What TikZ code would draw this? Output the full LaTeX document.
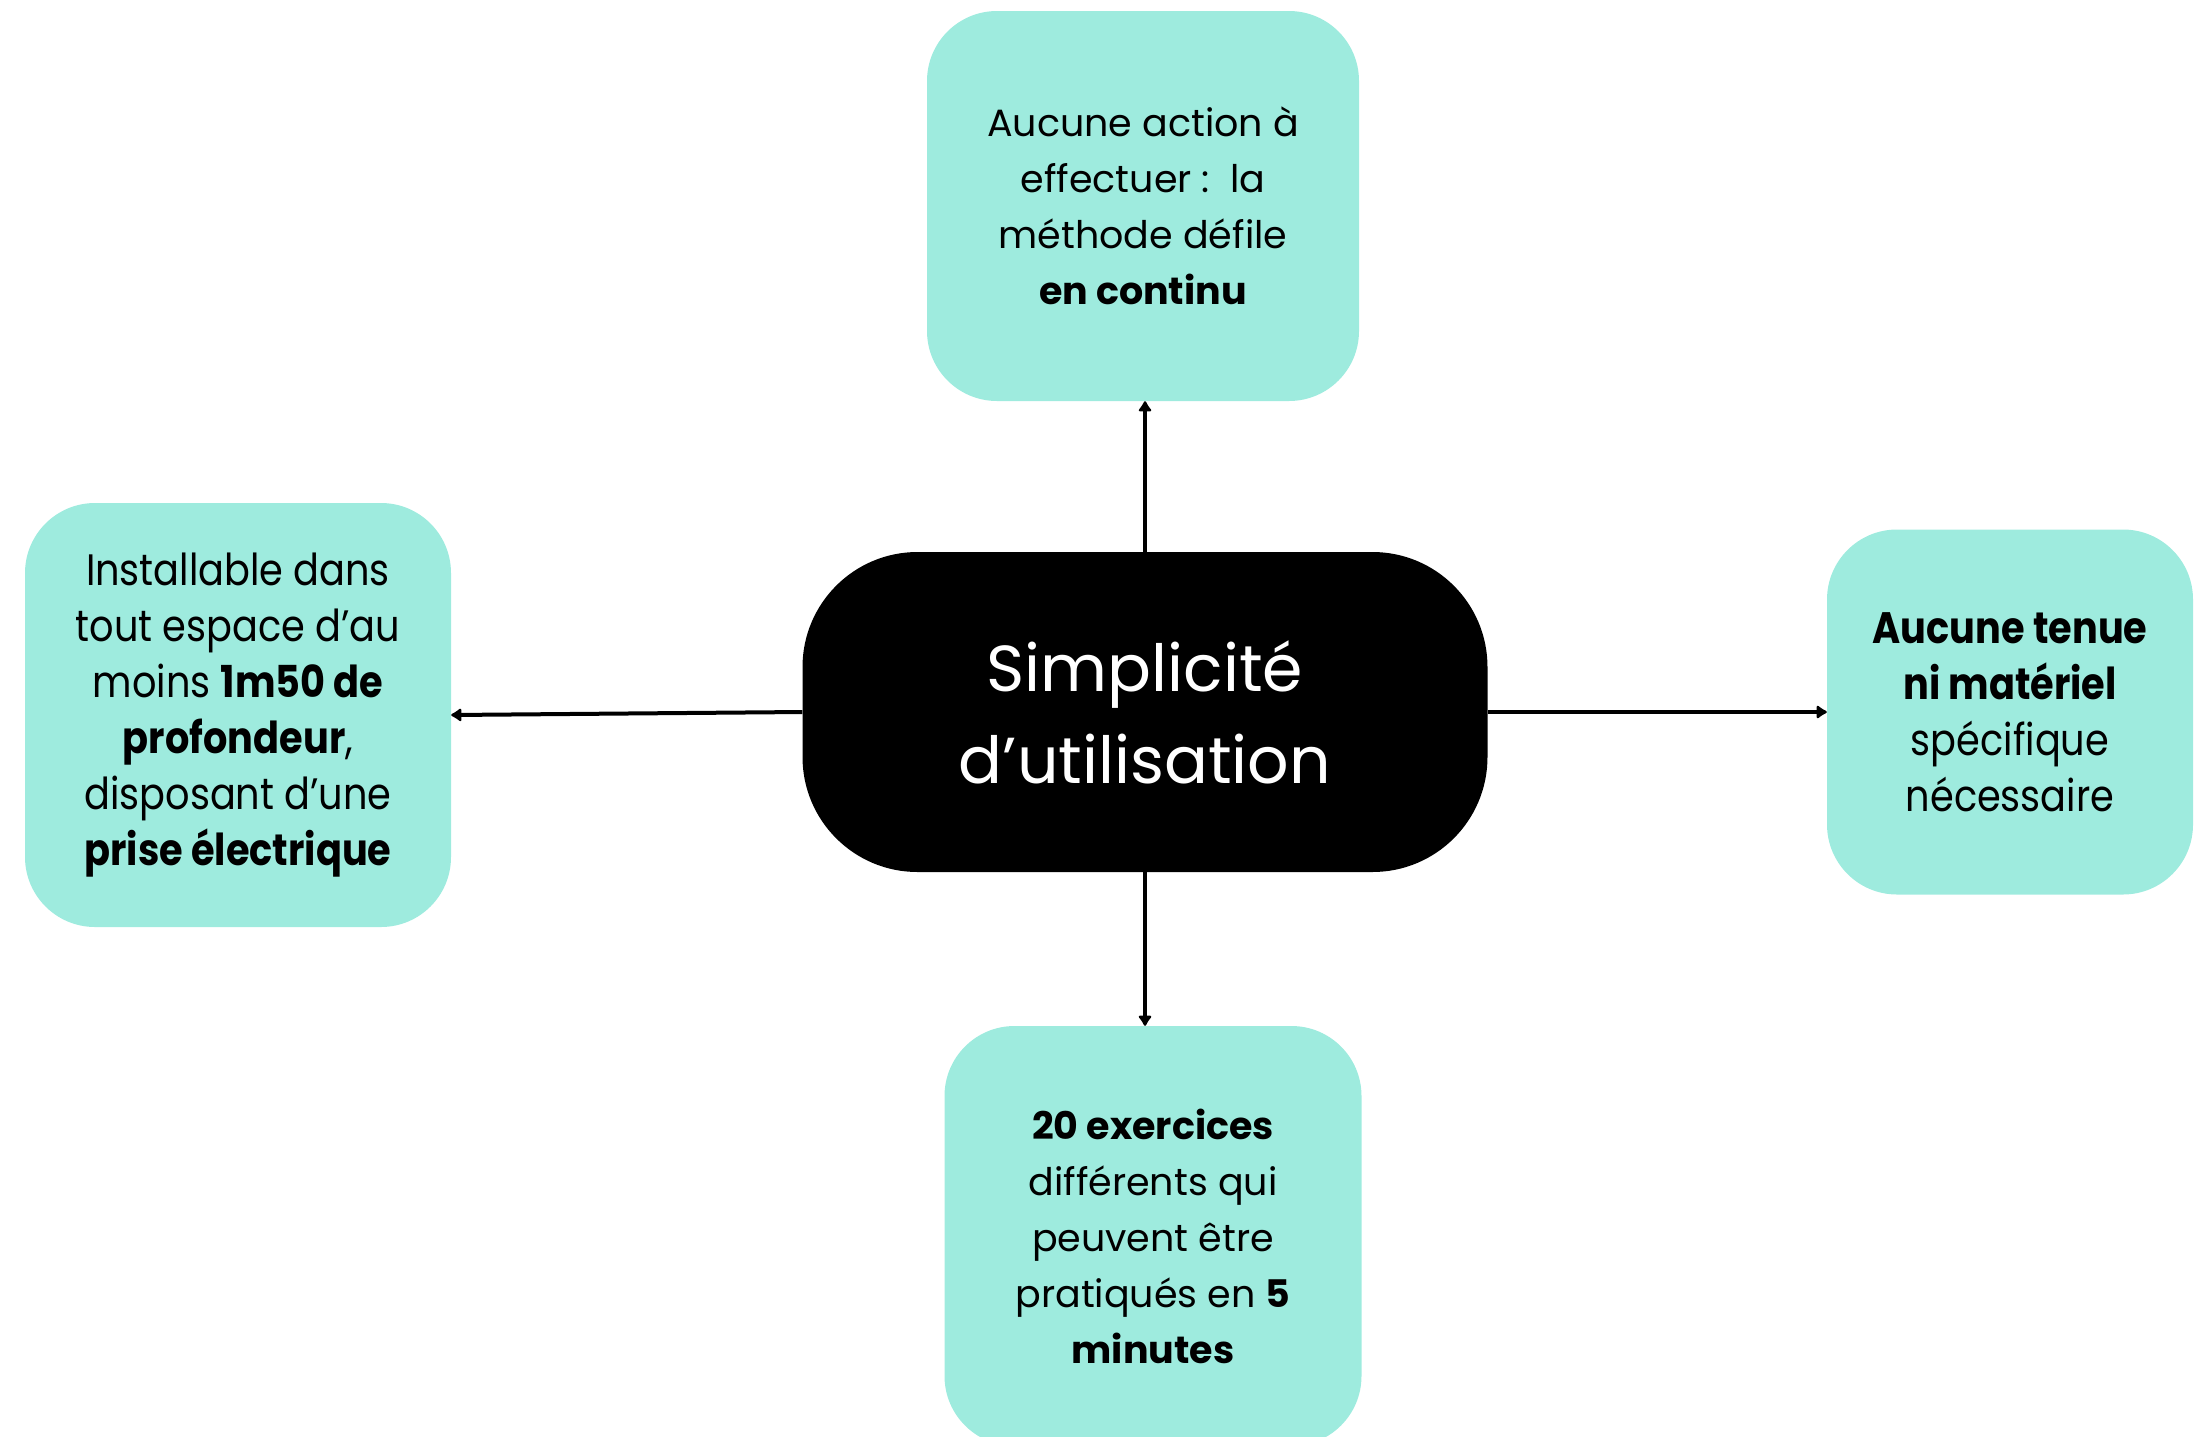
\documentclass[tikz,border=0pt]{standalone}
\usepackage{fontspec}
\usetikzlibrary{arrows.meta}
\newfontfamily\widefont{Poppins}
\newfontfamily\narrowfont[FakeStretch=0.87]{Poppins}
\definecolor{teal}{HTML}{9EEBDE}
\tikzset{
  box/.style={fill=teal, draw=none, rounded corners=70pt, align=center, inner sep=0pt},
  widetxt/.style={font=\widefont\fontsize{38}{56}\selectfont},
  narrowtxt/.style={font=\narrowfont\fontsize{44}{56}\selectfont},
  conn/.style={line width=4pt, -{Latex[length=12pt,width=16pt,round]}}
}
\begin{document}
\begin{tikzpicture}[x=1pt,y=-1pt]
\useasboundingbox (0,0) rectangle (2209,1436);
\clip (0,0) rectangle (2209,1436);
\node[box, widetxt, minimum width=432pt, minimum height=390pt] (top) at (1143,206)
  {Aucune action à\\effectuer :\ \ la\\méthode défile\\\textbf{en continu}};
\node[box, fill=black, text=white, rounded corners=115pt, minimum width=685pt, minimum height=320pt,
  font=\widefont\fontsize{65}{92}\selectfont] (c) at (1145,712)
  {Simplicité\\d’utilisation};
\node[box, narrowtxt, minimum width=426pt, minimum height=424pt] (left) at (238,715)
  {Installable dans\\tout espace d’au\\moins \textbf{1m50 de}\\\textbf{profondeur},\\disposant d’une\\\textbf{prise électrique}};
\node[box, narrowtxt, minimum width=366pt, minimum height=365pt] (right) at (2010,712)
  {\textbf{Aucune tenue}\\\textbf{ni matériel}\\spécifique\\nécessaire};
\node[box, widetxt, minimum width=417pt, minimum height=420pt] (bot) at (1153,1236)
  {\textbf{20 exercices}\\différents qui\\peuvent être\\pratiqués en \textbf{5}\\\textbf{minutes}};
\draw[conn] (c.north) -- (c.north |- top.south);
\draw[conn] (c.south) -- (c.south |- bot.north);
\draw[conn] (c.west) -- (left.east);
\draw[conn] (c.east) -- (right.west);
\end{tikzpicture}
\end{document}
